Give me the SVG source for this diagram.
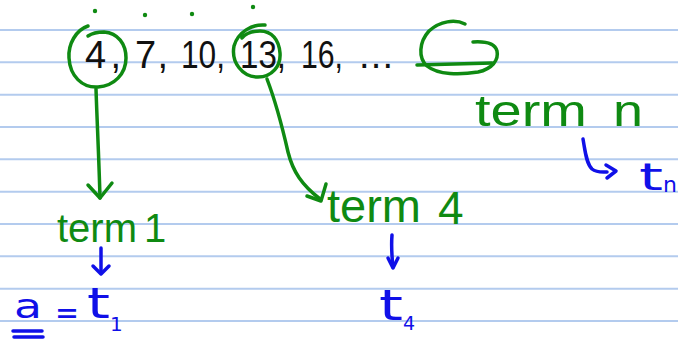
<svg xmlns="http://www.w3.org/2000/svg" width="678" height="345" viewBox="0 0 678 345">
<style>
.rule{stroke:#b3cbee;stroke-width:2}
.g{fill:none;stroke:#0f8a12;stroke-width:3.5;stroke-linecap:round;stroke-linejoin:round}
.b{fill:none;stroke:#1010e8;stroke-width:3.5;stroke-linecap:round;stroke-linejoin:round}
.num{font-family:"Liberation Sans",Arial,sans-serif;font-size:38px;fill:#111}
.gt{font-family:"Liberation Sans",Arial,sans-serif;fill:#0f8a12}
.bt{font-family:"DejaVu Sans","Liberation Sans",sans-serif;fill:#1010e8}
</style>
<rect width="678" height="345" fill="#fff"/>
<g id="paper">
<line class="rule" x1="0" y1="30" x2="678" y2="30"/>
<line class="rule" x1="0" y1="62.3" x2="678" y2="62.3"/>
<line class="rule" x1="0" y1="94.7" x2="678" y2="94.7"/>
<line class="rule" x1="0" y1="127" x2="678" y2="127"/>
<line class="rule" x1="0" y1="159.3" x2="678" y2="159.3"/>
<line class="rule" x1="0" y1="191.7" x2="678" y2="191.7"/>
<line class="rule" x1="0" y1="224" x2="678" y2="224"/>
<line class="rule" x1="0" y1="256.3" x2="678" y2="256.3"/>
<line class="rule" x1="0" y1="288.7" x2="678" y2="288.7"/>
<line class="rule" x1="0" y1="321" x2="678" y2="321"/>
</g>
<g id="sequence">
<text class="num" x="85" y="68" textLength="36" lengthAdjust="spacing">4,</text>
<text class="num" x="135" y="68" textLength="33" lengthAdjust="spacing">7,</text>
<text class="num" x="181" y="68" textLength="44" lengthAdjust="spacingAndGlyphs">10,</text>
<text class="num" x="240" y="68" textLength="46" lengthAdjust="spacingAndGlyphs">13,</text>
<text class="num" x="301" y="68" textLength="42" lengthAdjust="spacingAndGlyphs">16,</text>
<text class="num" x="359" y="68" textLength="34" lengthAdjust="spacing">...</text>
<g fill="#0f8a12">
<circle cx="95" cy="11" r="2.2"/><circle cx="145" cy="15" r="2.2"/><circle cx="192" cy="14" r="2.2"/><circle cx="253" cy="7" r="2.2"/>
</g>
</g>
<g id="circle-4">
<path class="g" d="M88,26 C76,30 68,44 69,58 C70,76 82,88 98,87 C114,86 126,74 126,58 C126,44 118,33 104,32 C96,32 91,34 88,36"/>
</g>
<g id="circle-13">
<path class="g" d="M265,25 C252,24 238,32 234,46 C231,62 242,77 258,77 C272,77 281,66 280,53 C279,40 272,31 260,31 C252,31 245,34 242,38"/>
</g>
<g id="blank-n">
<path class="g" d="M465,24 C455,19 440,21 429,31 C419,42 418,58 427,66 C438,75 460,75 478,72 C492,69 499,60 497,51 C495,44 488,41 473,42"/>
<path class="g" d="M417,65 L492,63"/>
</g>
<g id="term1">
<text class="gt" x="57" y="242" font-size="40" textLength="80" lengthAdjust="spacingAndGlyphs">term</text>
<text class="gt" x="144" y="242" font-size="40">1</text>
</g>
<g id="term4">
<text class="gt" x="327" y="222" font-size="46" textLength="94" lengthAdjust="spacingAndGlyphs">term</text>
<text class="gt" x="438" y="224" font-size="46">4</text>
</g>
<g id="termn">
<text class="gt" x="475" y="126" font-size="44" textLength="112" lengthAdjust="spacingAndGlyphs">term</text>
<text class="gt" x="613" y="126" font-size="44" textLength="30" lengthAdjust="spacingAndGlyphs">n</text>
</g>
<g id="a-t1">
<text class="bt" x="14" y="318" font-size="34" textLength="28" lengthAdjust="spacingAndGlyphs">a</text>
<path class="b" d="M13,331 L42,331 M14,337 L43,337"/>
<text class="bt" x="55" y="324" font-size="32" textLength="24" lengthAdjust="spacingAndGlyphs">=</text>
<text class="bt" x="87" y="318" font-size="42" textLength="23" lengthAdjust="spacingAndGlyphs">t</text>
<text class="bt" x="110" y="331" font-size="20">1</text>
</g>
<g id="t4">
<text class="bt" x="379" y="320" font-size="42" textLength="24" lengthAdjust="spacingAndGlyphs">t</text>
<text class="bt" x="403" y="330" font-size="19">4</text>
</g>
<g id="tn">
<text class="bt" x="639" y="190" font-size="37" textLength="24" lengthAdjust="spacingAndGlyphs">t</text>
<text class="bt" x="663" y="192" font-size="22">n</text>
</g>
<g id="connectors">
<path class="g" d="M96,89 C97,120 99,160 100,198"/>
<path class="g" d="M88,185 L100,198 L112,183"/>
<path class="g" d="M267,79 C275,100 283,130 288,152 C293,172 302,185 320,199"/>
<path class="g" d="M307,196 L321,201 L326,184"/>
<path class="b" d="M101,248 L101,273"/>
<path class="b" d="M93,266 L101,274 L109,266"/>
<path class="b" d="M392,235 C391,248 392,258 393,267"/>
<path class="b" d="M388,258 L393,268 L398,258"/>
<path class="b" d="M583,139 C585,150 586,163 592,169 C597,173 603,172 607,172"/>
<path class="b" d="M606,165 L616,171 L607,178"/>
</g>
</svg>
